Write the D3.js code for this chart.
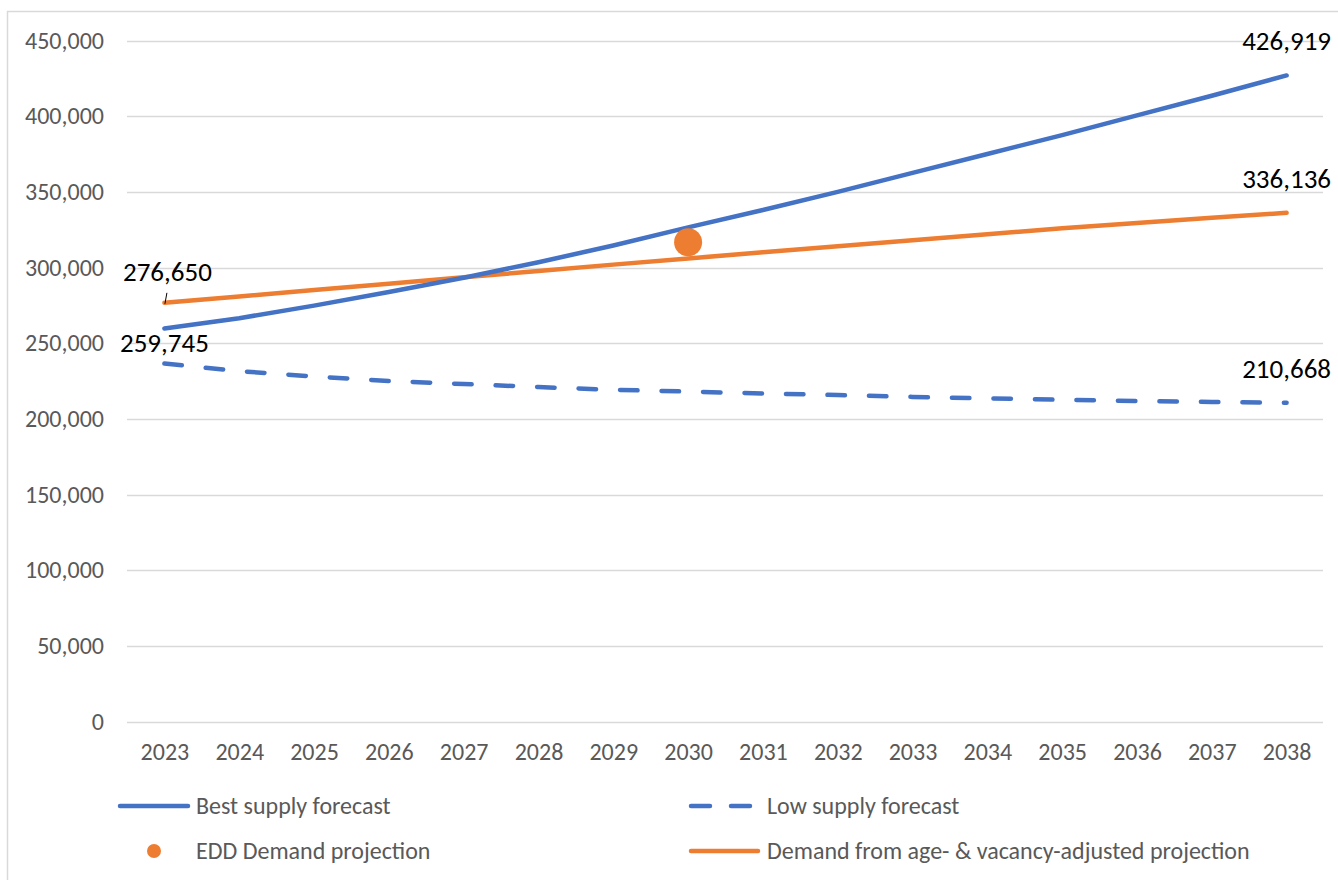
<!DOCTYPE html>
<html>
<head>
<meta charset="utf-8">
<script src="https://cdn.jsdelivr.net/npm/d3@7"></script>
<style>
  html, body { margin: 0; padding: 0; background: #fff; }
  svg { display: block; font-family: Carlito, Calibri, Lato, "Open Sans", sans-serif; }
  svg text { font-family: Carlito, Calibri, Lato, "Open Sans", sans-serif; }
</style>
</head>
<body>
<svg id="chart" width="1338" height="880"></svg>
<script>
// Years on the category axis
const years = ["2023","2024","2025","2026","2027","2028","2029","2030",
               "2031","2032","2033","2034","2035","2036","2037","2038"];

// Housing supply and demand series (units)
const bestSupply = [259745, 266500, 274800, 283800, 293200, 303500, 314500, 326500,
                    338000, 350000, 362500, 375000, 387500, 400500, 413500, 426919];
const lowSupply  = [236500, 231500, 228000, 225000, 223000, 221000, 219200, 218000,
                    216800, 215700, 214500, 213500, 212600, 211800, 211200, 210668];
const ageVacancyDemand = [276650, 280900, 285100, 289300, 293500, 297700, 301900, 306000,
                          310000, 314000, 318000, 322000, 326000, 329400, 332800, 336136];

// Single EDD demand point
const eddYear = "2030";
const eddDemand = 316700;

// Value-axis ticks
const yTicks = [0, 50000, 100000, 150000, 200000, 250000, 300000, 350000, 400000, 450000];

const legendLabels = ["Best supply forecast", "Low supply forecast",
                      "EDD Demand projection", "Demand from age- & vacancy-adjusted projection"];

const BLUE = "#4472C4", ORANGE = "#ED7D31", GRID = "#D9D9D9", AXIS_TEXT = "#595959";
const FONT = "Carlito, Calibri, Lato, 'Open Sans', sans-serif";

const svg = d3.select("#chart");

// outer frame (left and top edges visible)
svg.append("path")
  .attr("d", "M7.5,880 L7.5,11.5 L1338,11.5")
  .attr("fill", "none").attr("stroke", GRID).attr("stroke-width", 1.5);

const x = d3.scalePoint().domain(years).range([127, 1324]).padding(0.5);
const y = d3.scaleLinear().domain([0, 450000]).range([721.5, 40.5]);

// horizontal gridlines
svg.append("g").selectAll("line").data(yTicks).join("line")
  .attr("x1", 127).attr("x2", 1323)
  .attr("y1", d => Math.round(y(d)) + 0.5).attr("y2", d => Math.round(y(d)) + 0.5)
  .attr("stroke", GRID).attr("stroke-width", 1.5);

// value axis labels
const yAxis = d3.axisLeft(y).tickValues(yTicks).tickFormat(d3.format(",")).tickSize(0).tickPadding(0);
const gy = svg.append("g").attr("transform", "translate(104,0)").call(yAxis)
  .attr("font-family", FONT).attr("font-size", 24);
gy.select(".domain").remove();
gy.selectAll("text").attr("fill", AXIS_TEXT);

// category axis labels
const xAxis = d3.axisBottom(x).tickSize(0).tickPadding(0);
const gx = svg.append("g").attr("transform", "translate(0,743)").call(xAxis)
  .attr("font-family", FONT).attr("font-size", 24);
gx.select(".domain").remove();
gx.selectAll("text").attr("fill", AXIS_TEXT).attr("dy", "0.71em");

const line = d3.line().x((d, i) => x(years[i])).y(d => y(d));

svg.append("path").datum(lowSupply).attr("d", line)
  .attr("fill", "none").attr("stroke", BLUE).attr("stroke-width", 4.5)
  .attr("stroke-linecap", "round").attr("stroke-dasharray", "17.5,24");

svg.append("path").datum(ageVacancyDemand).attr("d", line)
  .attr("fill", "none").attr("stroke", ORANGE).attr("stroke-width", 4.5)
  .attr("stroke-linecap", "round").attr("stroke-linejoin", "round");

svg.append("path").datum(bestSupply).attr("d", line)
  .attr("fill", "none").attr("stroke", BLUE).attr("stroke-width", 4.5)
  .attr("stroke-linecap", "round").attr("stroke-linejoin", "round");

svg.append("circle")
  .attr("cx", x(eddYear)).attr("cy", y(eddDemand)).attr("r", 14)
  .attr("fill", ORANGE);

// data labels at the series ends
const fmt = d3.format(",");
const last = years.length - 1;
const labels = [
  { v: bestSupply[0], year: years[0], dy: 24 },
  { v: ageVacancyDemand[0], year: years[0], dy: -22, leader: true, dx: 3 },
  { v: bestSupply[last], year: years[last], dy: -25 },
  { v: ageVacancyDemand[last], year: years[last], dy: -25 },
  { v: lowSupply[last], year: years[last], dy: -25 }
];
const lg = svg.append("g").attr("font-family", FONT);
labels.forEach(l => {
  const px = x(l.year), py = y(l.v);
  lg.append("text")
    .attr("x", px + (l.dx || 0)).attr("y", py + l.dy)
    .attr("text-anchor", "middle").attr("font-size", 27).attr("fill", "#000")
    .text(fmt(l.v));
  if (l.leader) {
    lg.append("line")
      .attr("x1", px + 0.5).attr("y1", py + 1).attr("x2", px + 2.5).attr("y2", py - 10)
      .attr("stroke", "#000").attr("stroke-width", 1);
  }
});

// legend
const leg = svg.append("g").attr("font-family", FONT).attr("font-size", 24).attr("fill", AXIS_TEXT);
const row1 = 806, row2 = 851;
leg.append("line").attr("x1", 120).attr("x2", 188).attr("y1", row1).attr("y2", row1)
  .attr("stroke", BLUE).attr("stroke-width", 4.5).attr("stroke-linecap", "round");
leg.append("text").attr("x", 196).attr("y", row1).attr("dy", "0.35em").text(legendLabels[0]);

leg.append("line").attr("x1", 691).attr("x2", 758).attr("y1", row1).attr("y2", row1)
  .attr("stroke", BLUE).attr("stroke-width", 4.5).attr("stroke-linecap", "round")
  .attr("stroke-dasharray", "19,21");
leg.append("text").attr("x", 767).attr("y", row1).attr("dy", "0.35em").text(legendLabels[1]);

leg.append("circle").attr("cx", 154).attr("cy", row2).attr("r", 7).attr("fill", ORANGE);
leg.append("text").attr("x", 196).attr("y", row2).attr("dy", "0.35em").text(legendLabels[2]);

leg.append("line").attr("x1", 691).attr("x2", 758).attr("y1", row2).attr("y2", row2)
  .attr("stroke", ORANGE).attr("stroke-width", 4.5).attr("stroke-linecap", "round");
leg.append("text").attr("x", 767).attr("y", row2).attr("dy", "0.35em").text(legendLabels[3]);
</script>
</body>
</html>
